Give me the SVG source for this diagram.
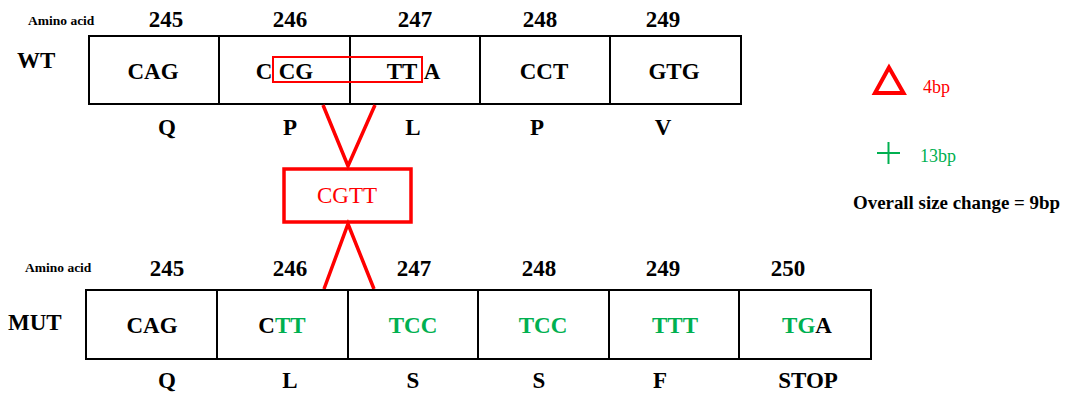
<svg xmlns="http://www.w3.org/2000/svg" width="1072" height="399" viewBox="0 0 1072 399" font-family="'Liberation Serif','Times New Roman',serif">
<style>
text{font-family:"Liberation Serif","Times New Roman",serif;}
.b{font-weight:bold;fill:#000;}
.num{font-size:23px;font-weight:bold;text-anchor:middle;}
.cod{font-size:23px;font-weight:bold;text-anchor:middle;}
.aa{font-size:23px;font-weight:bold;text-anchor:middle;}
.lbl{font-size:23px;font-weight:bold;}
.small{font-size:13.5px;font-weight:bold;}
.cell{fill:#fff;stroke:#000;stroke-width:2;}
.g{fill:#00B050;}
.r{fill:#FF0000;}
.red{stroke:#FF0000;fill:none;}
</style>
<rect width="1072" height="399" fill="#fff"/>

<g id="wt-row">
  <text class="small" x="28" y="25">Amino acid</text>
  <text class="lbl" x="17" y="68">WT</text>
  <rect class="cell" x="89" y="36" width="652" height="68"/>
  <line x1="219" y1="36" x2="219" y2="104" stroke="#000" stroke-width="2"/>
  <line x1="350" y1="36" x2="350" y2="104" stroke="#000" stroke-width="2"/>
  <line x1="480" y1="36" x2="480" y2="104" stroke="#000" stroke-width="2"/>
  <line x1="610" y1="36" x2="610" y2="104" stroke="#000" stroke-width="2"/>
  <text class="num" x="166" y="27">245</text>
  <text class="num" x="290" y="27">246</text>
  <text class="num" x="415" y="27">247</text>
  <text class="num" x="540" y="27">248</text>
  <text class="num" x="663" y="27">249</text>
  <text class="cod" x="153" y="79">CAG</text>
  <text class="cod" x="264" y="79">C</text>
  <text class="cod" x="296" y="79">CG</text>
  <text class="cod" x="402" y="79">TT</text>
  <text class="cod" x="432" y="79">A</text>
  <text class="cod" x="544" y="79">CCT</text>
  <text class="cod" x="674" y="79">GTG</text>
  <rect class="red" x="273" y="57" width="149" height="25" stroke-width="2"/>
  <text class="aa" x="167" y="135">Q</text>
  <text class="aa" x="290" y="135">P</text>
  <text class="aa" x="413" y="135">L</text>
  <text class="aa" x="537" y="135">P</text>
  <text class="aa" x="663" y="135">V</text>
</g>

<g id="insert">
  <rect class="red" x="284" y="169" width="127" height="53" stroke-width="3.5"/>
  <text x="347" y="203" font-size="23" text-anchor="middle" class="r">CGTT</text>
</g>

<g id="connectors" stroke="#FF0000" stroke-width="3.5" fill="none">
  <polyline points="323,105 348,166 375,105"/>
  <polyline points="324,289 348,224 374,289"/>
</g>

<g id="mut-row">
  <text class="small" x="25" y="272">Amino acid</text>
  <text class="lbl" x="8" y="330">MUT</text>
  <rect class="cell" x="86" y="290" width="785" height="69"/>
  <line x1="217" y1="290" x2="217" y2="359" stroke="#000" stroke-width="2"/>
  <line x1="348" y1="290" x2="348" y2="359" stroke="#000" stroke-width="2"/>
  <line x1="478" y1="290" x2="478" y2="359" stroke="#000" stroke-width="2"/>
  <line x1="609" y1="290" x2="609" y2="359" stroke="#000" stroke-width="2"/>
  <line x1="739" y1="290" x2="739" y2="359" stroke="#000" stroke-width="2"/>
  <text class="num" x="167" y="276">245</text>
  <text class="num" x="290" y="276">246</text>
  <text class="num" x="414" y="276">247</text>
  <text class="num" x="539" y="276">248</text>
  <text class="num" x="663" y="276">249</text>
  <text class="num" x="788" y="276">250</text>
  <text class="cod" x="152" y="333">CAG</text>
  <text class="cod" x="282" y="333">C<tspan class="g">TT</tspan></text>
  <text class="cod g" x="413" y="333">TCC</text>
  <text class="cod g" x="543" y="333">TCC</text>
  <text class="cod g" x="675" y="333">TTT</text>
  <text class="cod" x="807" y="333"><tspan class="g">TG</tspan>A</text>
  <text class="aa" x="167" y="388">Q</text>
  <text class="aa" x="290" y="388">L</text>
  <text class="aa" x="413" y="388">S</text>
  <text class="aa" x="539" y="388">S</text>
  <text class="aa" x="660" y="388">F</text>
  <text class="aa" x="808" y="388">STOP</text>
</g>

<g id="legend-deletion">
  <polygon points="889,67.5 875,93 903.5,93" fill="none" stroke="#FF0000" stroke-width="4" stroke-linejoin="miter"/>
  <text class="r" x="923" y="93" font-size="18">4bp</text>
</g>

<g id="legend-insertion">
  <line x1="877" y1="153" x2="900" y2="153" stroke="#00B050" stroke-width="2"/>
  <line x1="888.5" y1="142" x2="888.5" y2="164" stroke="#00B050" stroke-width="2"/>
  <text class="g" x="920" y="162" font-size="18">13bp</text>
</g>

<g id="summary">
  <text class="b" x="853" y="209" font-size="18.5" textLength="207" lengthAdjust="spacingAndGlyphs">Overall size change = 9bp</text>
</g>
</svg>
